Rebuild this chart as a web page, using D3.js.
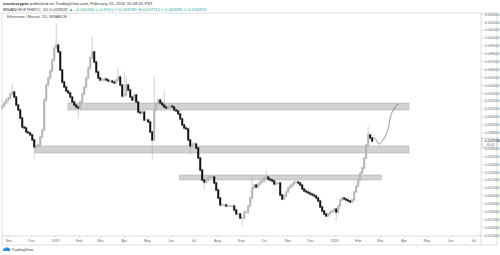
<!DOCTYPE html>
<html>
<head>
<meta charset="utf-8">
<script src="https://cdn.jsdelivr.net/npm/d3@7"></script>
<style>
  body { margin: 0; background: #fff; }
  svg { display: block; font-family: "Liberation Sans", Arial, sans-serif; }
</style>
</head>
<body>
<svg id="chart" width="500" height="255"></svg>
<script>
// ETH/BTC closes, one candle every ~2.6 days from 24 Oct 2018
const firstDate = new Date(2018, 9, 24);
const candleDays = 2.616;
const firstOpen = 0.03110;
const closes = [
  0.03134, 0.03172, 0.03210, 0.03236, 0.03286, 0.03312, 0.03248, 0.03147, 0.03084, 0.02982,
  0.02868, 0.02856, 0.02805, 0.02792, 0.02767, 0.02704, 0.02615, 0.02628, 0.02640, 0.02742,
  0.02830, 0.03210, 0.03400, 0.03489, 0.03578, 0.03717, 0.03869, 0.03907, 0.03819, 0.03591,
  0.03438, 0.03375, 0.03324, 0.03299, 0.03248, 0.03185, 0.03147, 0.03122, 0.03109, 0.03185,
  0.03286, 0.03375, 0.03489, 0.03616, 0.03743, 0.03819, 0.03692, 0.03565, 0.03489, 0.03464,
  0.03464, 0.03476, 0.03464, 0.03451, 0.03451, 0.03438, 0.03426, 0.03464, 0.03502, 0.03400,
  0.03261, 0.03274, 0.03400, 0.03337, 0.03248, 0.03210, 0.03274, 0.03185, 0.03058, 0.03046,
  0.03058, 0.02957, 0.02957, 0.02932, 0.02805, 0.02704, 0.03084, 0.03160, 0.03210, 0.03172,
  0.03147, 0.03122, 0.03109, 0.03122, 0.03134, 0.03122, 0.03084, 0.03071, 0.03033, 0.02970,
  0.02894, 0.02856, 0.02843, 0.02704, 0.02628, 0.02653, 0.02653, 0.02602, 0.02476, 0.02323,
  0.02197, 0.02171, 0.02197, 0.02235, 0.02235, 0.02235, 0.02159, 0.02070, 0.01969, 0.01880,
  0.01880, 0.01880, 0.01867, 0.01867, 0.01867, 0.01867, 0.01817, 0.01766, 0.01766, 0.01715,
  0.01715, 0.01791, 0.01791, 0.01867, 0.01969, 0.02095, 0.02133, 0.02108, 0.02146, 0.02171,
  0.02184, 0.02222, 0.02235, 0.02209, 0.02197, 0.02184, 0.02146, 0.02159, 0.02159, 0.02007,
  0.01956, 0.01994, 0.02045, 0.02095, 0.02121, 0.02146, 0.02171, 0.02171, 0.02159, 0.02133,
  0.02083, 0.02057, 0.02045, 0.02032, 0.02019, 0.02007, 0.01994, 0.01969, 0.01931, 0.01855,
  0.01804, 0.01766, 0.01741, 0.01766, 0.01791, 0.01804, 0.01829, 0.01791, 0.01867, 0.01943,
  0.01969, 0.01956, 0.01943, 0.01931, 0.01918, 0.01943, 0.02045, 0.02121, 0.02197, 0.02285,
  0.02349, 0.02476, 0.02640, 0.02767, 0.02729, 0.02691
];
// notable wicks: [candle index, price]
const wickHighs = [[5, 0.0340], [27, 0.04161], [45, 0.03996], [58, 0.03591], [61, 0.03553],
  [62, 0.03489], [76, 0.03489], [81, 0.03312], [125, 0.02222], [132, 0.02298], [183, 0.02856]];
const wickLows = [[16, 0.02488], [38, 0.02995], [75, 0.02476], [94, 0.02539], [101, 0.02095],
  [120, 0.01627], [167, 0.01690]];

// support / resistance zones: [start, end, top price, bottom price]
const zones = [
  [new Date(2019, 0, 18), new Date(2020, 3, 8), 0.03172, 0.03084],
  [new Date(2018, 11, 6), new Date(2020, 3, 8), 0.02628, 0.02539],
  [new Date(2019, 5, 13), new Date(2020, 2, 3), 0.02260, 0.02197]
];
// hand drawn projection path
const pathDates = [new Date(2020, 1, 22), new Date(2020, 1, 26), new Date(2020, 1, 28), new Date(2020, 2, 2),
  new Date(2020, 2, 6), new Date(2020, 2, 10), new Date(2020, 2, 13), new Date(2020, 2, 15),
  new Date(2020, 2, 18), new Date(2020, 2, 22), new Date(2020, 2, 26)];
const pathPrices = [0.02742, 0.02691, 0.02653, 0.02665, 0.02716, 0.02792, 0.02894, 0.03005,
  0.03071, 0.03134, 0.03160];

const priceTicks = d3.range(15, 44).map(v => v / 1000);
const monthTicks = d3.timeMonths(new Date(2018, 10, 1), new Date(2020, 6, 2));
const lastPrice = 0.026923;

const svg = d3.select("#chart");
const plotLeft = 2, plotRight = 481, plotTop = 13, plotBottom = 236;

const x = d3.scaleTime()
  .domain([new Date(2019, 0, 1), new Date(2020, 0, 1)])
  .range([55, 334]);
const y = d3.scaleLinear()
  .domain([0.015, 0.043])
  .range([235, 14]);

// header
const head = svg.append("g").attr("font-size", 4.3).attr("fill", "#333");
let t1 = head.append("text").attr("x", 3).attr("y", 5);
t1.append("tspan").attr("font-weight", "bold").text("iconiccrypto");
t1.append("tspan").text(" published on TradingView.com, February 20, 2020 10:58:31 PST");
let t2 = head.append("text").attr("x", 3).attr("y", 10.5);
t2.append("tspan").text("BINANCE:ETHBTC, 1D 0.026923 ");
t2.append("tspan").attr("fill", "#26a69a").text("\u25B2 +0.000244 (+0.91%) O:0.026781 H:0.027112 L:0.026582 C:0.026923");

// frame
svg.append("rect")
  .attr("x", plotLeft).attr("y", plotTop)
  .attr("width", 497 - plotLeft).attr("height", 245 - plotTop)
  .attr("fill", "none").attr("stroke", "#c8c8c8").attr("stroke-width", 0.6);
svg.append("line").attr("x1", plotRight).attr("x2", plotRight).attr("y1", plotTop).attr("y2", 245)
  .attr("stroke", "#c8c8c8").attr("stroke-width", 0.6);
svg.append("line").attr("x1", plotLeft).attr("x2", plotRight).attr("y1", plotBottom).attr("y2", plotBottom)
  .attr("stroke", "#c8c8c8").attr("stroke-width", 0.6);

svg.append("text").attr("x", 7).attr("y", 18).attr("font-size", 4).attr("fill", "#444")
  .text("Ethereum / Bitcoin, 1D, BINANCE");

// zones
svg.append("g").selectAll("rect")
  .data(zones)
  .enter()
  .append("rect")
  .attr("x", d => x(d[0]))
  .attr("width", d => x(d[1]) - x(d[0]))
  .attr("y", d => y(d[2]))
  .attr("height", d => y(d[3]) - y(d[2]))
  .attr("fill", "#d2d2d2")
  .attr("stroke", "#a8a8a8")
  .attr("stroke-width", 0.5);

// candles
const candles = closes.map((c, i) => ({
  date: d3.timeHour.offset(firstDate, Math.round(i * candleDays * 24)),
  open: i === 0 ? firstOpen : closes[i - 1],
  close: c
}));
candles.forEach(d => { d.high = Math.max(d.open, d.close); d.low = Math.min(d.open, d.close); });
wickHighs.forEach(([i, v]) => { candles[i].high = v; });
wickLows.forEach(([i, v]) => { candles[i].low = v; });

const cg = svg.append("g");
cg.selectAll("line")
  .data(candles)
  .enter()
  .append("line")
  .attr("x1", d => x(d.date)).attr("x2", d => x(d.date))
  .attr("y1", d => y(d.high) - 1.5).attr("y2", d => y(d.low) + 1.5)
  .attr("stroke", "#a0a0a0").attr("stroke-width", 0.5);
cg.selectAll("rect")
  .data(candles)
  .enter()
  .append("rect")
  .attr("x", d => x(d.date) - 1)
  .attr("width", 2)
  .attr("y", d => y(Math.max(d.open, d.close)) - 0.6)
  .attr("height", d => Math.abs(y(d.open) - y(d.close)) + 1.2)
  .attr("fill", d => d.close >= d.open ? "#b4b4b4" : "#111");

// projection curve
const pts = pathDates.map((d, i) => [x(d), y(pathPrices[i])]);
svg.append("path")
  .attr("d", d3.line().curve(d3.curveCatmullRom)(pts))
  .attr("fill", "none").attr("stroke", "#555").attr("stroke-width", 0.6);

// price axis
const yAxis = svg.append("g")
  .attr("transform", `translate(${plotRight},0)`)
  .call(d3.axisRight(y).tickValues(priceTicks).tickSize(2).tickPadding(1.5).tickFormat(d3.format(".6f")));
yAxis.select(".domain").remove();
yAxis.selectAll("line").attr("stroke", "#bbb").attr("stroke-width", 0.5);
yAxis.selectAll("text").attr("font-size", 3.6).attr("fill", "#666").attr("font-family", "Liberation Sans, Arial, sans-serif");

// last price label
const lp = svg.append("g").attr("transform", `translate(${plotRight + 1},${y(lastPrice)})`);
lp.append("rect").attr("x", 0).attr("y", -2.8).attr("width", 15).attr("height", 9)
  .attr("fill", "#fff").attr("stroke", "#888").attr("stroke-width", 0.4);
lp.append("text").attr("x", 2.5).attr("y", 0.3).attr("dy", "0.32em").attr("font-size", 3.6).attr("fill", "#222")
  .text("0.026923");
lp.append("text").attr("x", 4.5).attr("y", 4.3).attr("dy", "0.32em").attr("font-size", 3.3).attr("fill", "#555")
  .text("01:01");

// time axis
const xAxis = svg.append("g")
  .attr("transform", `translate(0,${plotBottom})`)
  .call(d3.axisBottom(x).tickValues(monthTicks).tickSize(1.5).tickPadding(2)
    .tickFormat(d => d.getMonth() === 0 ? d3.timeFormat("%Y")(d) : d3.timeFormat("%b")(d)));
xAxis.select(".domain").remove();
xAxis.selectAll("line").attr("stroke", "#bbb").attr("stroke-width", 0.5);
xAxis.selectAll("text").attr("font-size", 3.6).attr("fill", "#666").attr("font-family", "Liberation Sans, Arial, sans-serif");

// footer logo
const logo = svg.append("g").attr("transform", "translate(3,247)");
logo.append("path").attr("d", "M0,4 L0,2.6 Q0.6,1 2.2,1.4 Q3,-0.3 5,0.6 Q6.6,0.6 7,2.2 Q7.6,3 7.2,4 Z")
  .attr("fill", "#2e8bd8");
svg.append("text").attr("x", 11.5).attr("y", 251).attr("font-size", 4).attr("fill", "#444").text("TradingView");
</script>
</body>
</html>
